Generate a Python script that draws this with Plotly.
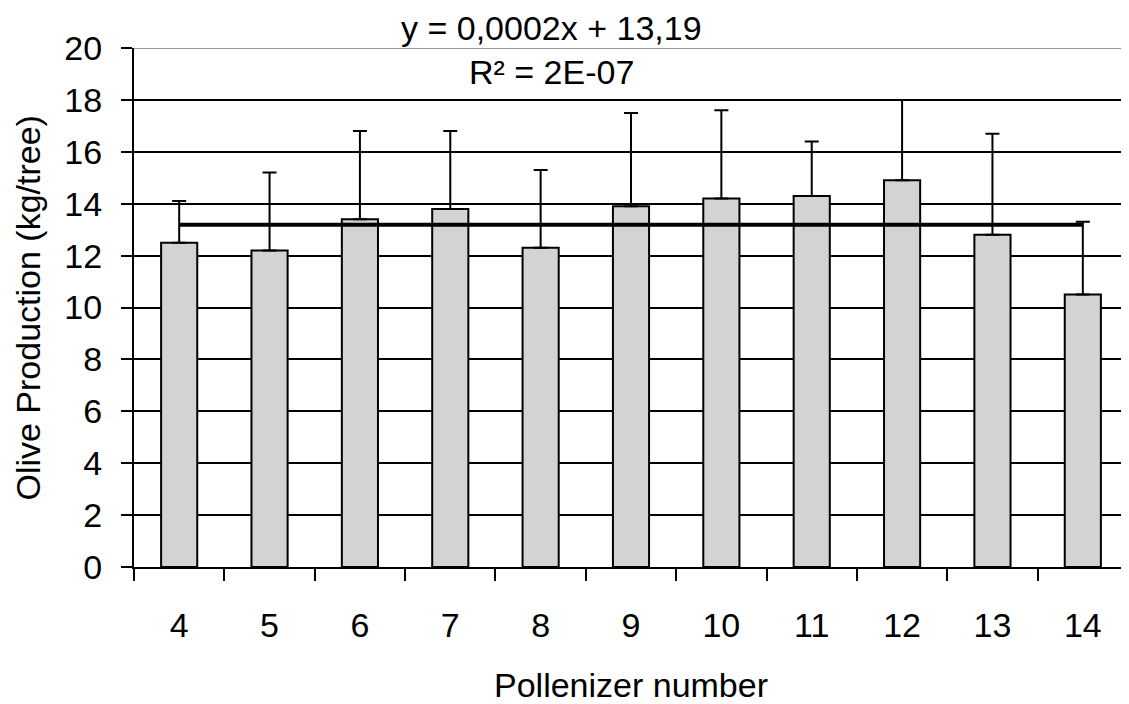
import plotly.graph_objects as go

categories = ["4", "5", "6", "7", "8", "9", "10", "11", "12", "13", "14"]
production = [12.5, 12.2, 13.4, 13.8, 12.3, 13.9, 14.2, 14.3, 14.9, 12.8, 10.5]
error_plus = [1.6, 3.0, 3.4, 3.0, 3.0, 3.6, 3.4, 2.1, 3.1, 3.9, 2.8]
trend_slope = 0.0002
trend_intercept = 13.19
y_ticks = [0, 2, 4, 6, 8, 10, 12, 14, 16, 18, 20]

trend_y = [trend_slope * (i + 1) + trend_intercept for i in range(len(categories))]

FONT = "Liberation Sans, Arial, sans-serif"

fig = go.Figure()
fig.add_trace(go.Bar(
    x=categories, y=production,
    marker=dict(color="#d3d3d3", line=dict(color="black", width=2)),
    error_y=dict(type="data", symmetric=False, array=error_plus,
                 arrayminus=[0] * len(categories),
                 color="black", thickness=2, width=7),
    showlegend=False,
))
fig.add_trace(go.Scatter(
    x=categories, y=trend_y, mode="lines",
    line=dict(color="black", width=4), showlegend=False,
))

fig.update_layout(
    width=1121, height=696,
    margin=dict(l=126, r=1, t=40, b=137, autoexpand=False),
    paper_bgcolor="white", plot_bgcolor="white",
    bargap=0.6,
    font=dict(family=FONT, size=34, color="black"),
    xaxis=dict(
        type="category", showgrid=False,
        showline=True, linecolor="black", linewidth=2,
        ticks="outside", tickson="boundaries", ticklen=12, tickwidth=2, tickcolor="black",
        tickfont=dict(size=34), ticklabelstandoff=27,
        title=dict(text="Pollenizer number", font=dict(size=34), standoff=30),
    ),
    yaxis=dict(
        range=[0, 20], tickvals=y_ticks,
        showgrid=True, gridcolor="black", gridwidth=2,
        zeroline=False,
        showline=True, linecolor="black", linewidth=2,
        ticks="outside", ticklen=11, tickwidth=2, tickcolor="black",
        tickfont=dict(size=34), ticklabelstandoff=12,
    ),
    shapes=[dict(type="line", xref="paper", yref="y", x0=0, x1=1, y0=20, y1=20,
                 line=dict(color="#999999", width=2), layer="above")],
    annotations=[
        dict(text="y = 0,0002x + 13,19", xref="paper", yref="paper",
             x=0.42, y=1.0385, xanchor="center", yanchor="middle",
             showarrow=False, font=dict(size=34)),
        dict(text="R² = 2E-07", xref="paper", yref="paper",
             x=0.42, y=0.954, xanchor="center", yanchor="middle",
             showarrow=False, font=dict(size=34)),
        dict(text="Olive Production (kg/tree)", xref="paper", yref="paper",
             x=-0.1076, y=0.5, xanchor="center", yanchor="middle", textangle=-90,
             showarrow=False, font=dict(size=34)),
    ],
)

fig.write_html("out.html")
